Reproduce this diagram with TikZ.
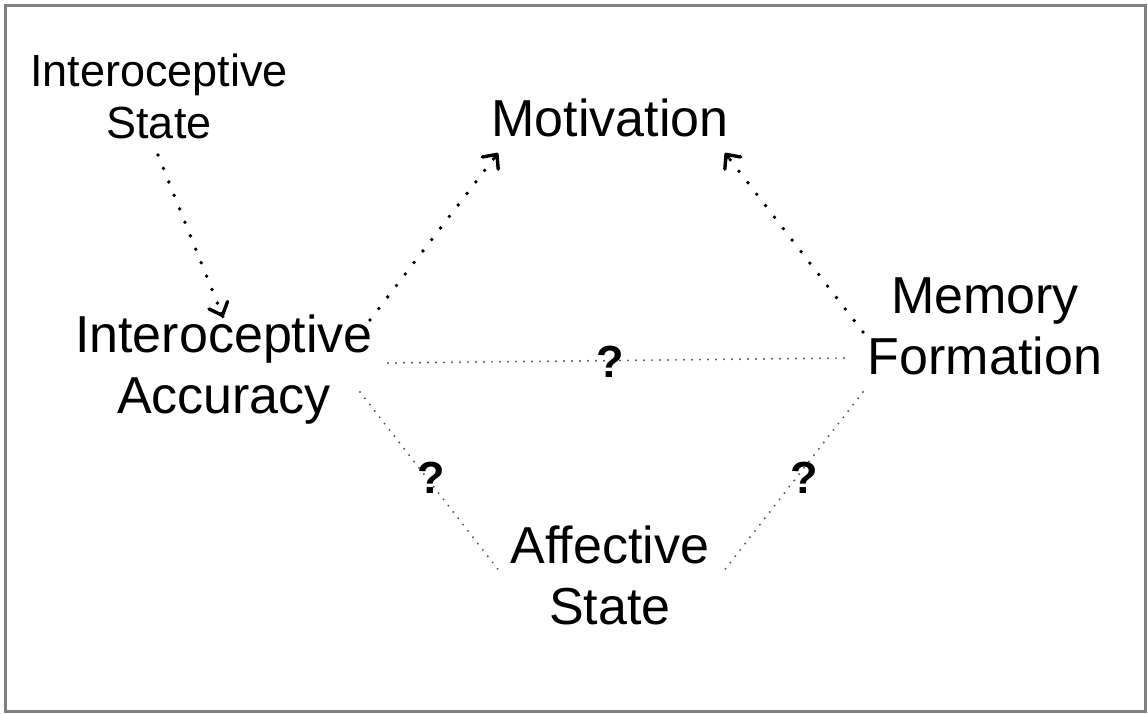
\documentclass[tikz,border=0pt]{standalone}
\usepackage{fontspec}
\setmainfont{Liberation Sans}
\usetikzlibrary{arrows.meta,calc}
\begin{document}
\begin{tikzpicture}[x=1pt,y=-1pt,
  lbl/.style={align=center,inner sep=0pt,font=\fontsize{52}{61}\selectfont},
  smalllbl/.style={align=center,inner sep=0pt,font=\fontsize{45}{52}\selectfont},
  qmark/.style={inner sep=0pt,font=\fontsize{45}{45}\selectfont\bfseries},
  strong/.style={line width=3.8pt,line cap=round,dash pattern=on 0pt off 14.5pt},
  tip/.style={solid,line width=3.4pt,
    -{Straight Barb[length=11pt,width=20pt,line width=3.4pt,round]}},
  faint/.style={line width=2.2pt,line cap=round,dash pattern=on 0pt off 8pt,black!65}]
\useasboundingbox (0,0) rectangle (1148,713);
\draw[line width=3pt,black!50] (5,5) rectangle (1145,711);

% concepts
\node[smalllbl] (is) at (159,96) {Interoceptive\\State};
\node[lbl] (mot) at (610,118) {Motivation};
\node[lbl] (ia) at (224,370) {Interoceptive\\Accuracy};
\node[lbl] (mf) at (985,326) {Memory\\Formation};
\node[lbl] (as) at (610,575) {Affective\\State};

% link end points on the node borders
\coordinate (isS) at ([shift={(-1,59)}]is.center);
\coordinate (iaN) at ([shift={(-1,-53)}]ia.center);
\coordinate (iaNE) at ([shift={(146,-50)}]ia.center);
\coordinate (motSW) at ([shift={(-112,35)}]mot.center);
\coordinate (mfW) at ([shift={(-122,6)}]mf.center);
\coordinate (motSE) at ([shift={(115,35)}]mot.center);

% directed links: dotted shaft, solid head
\draw[strong] (isS) -- (iaN);
\draw[tip] ($(isS)!0.97!(iaN)$) -- (iaN);
\draw[strong] (iaNE) -- (motSW);
\draw[tip] ($(iaNE)!0.97!(motSW)$) -- (motSW);
\draw[strong] (mfW) -- (motSE);
\draw[tip] ($(mfW)!0.97!(motSE)$) -- (motSE);

% uncertain links
\draw[faint] ([shift={(164,-7)}]ia.center) -- ([shift={(-138,32)}]mf.center);
\draw[faint] ([shift={(136,22)}]ia.center) -- ([shift={(-110,-3)}]as.center);
\draw[faint] ([shift={(-122,66)}]mf.center) -- ([shift={(113,-3)}]as.center);
\node[qmark] (q1) at (610,362) {?};
\node[qmark] (q2) at (431,478) {?};
\node[qmark] (q3) at (804,478) {?};
\end{tikzpicture}
\end{document}
